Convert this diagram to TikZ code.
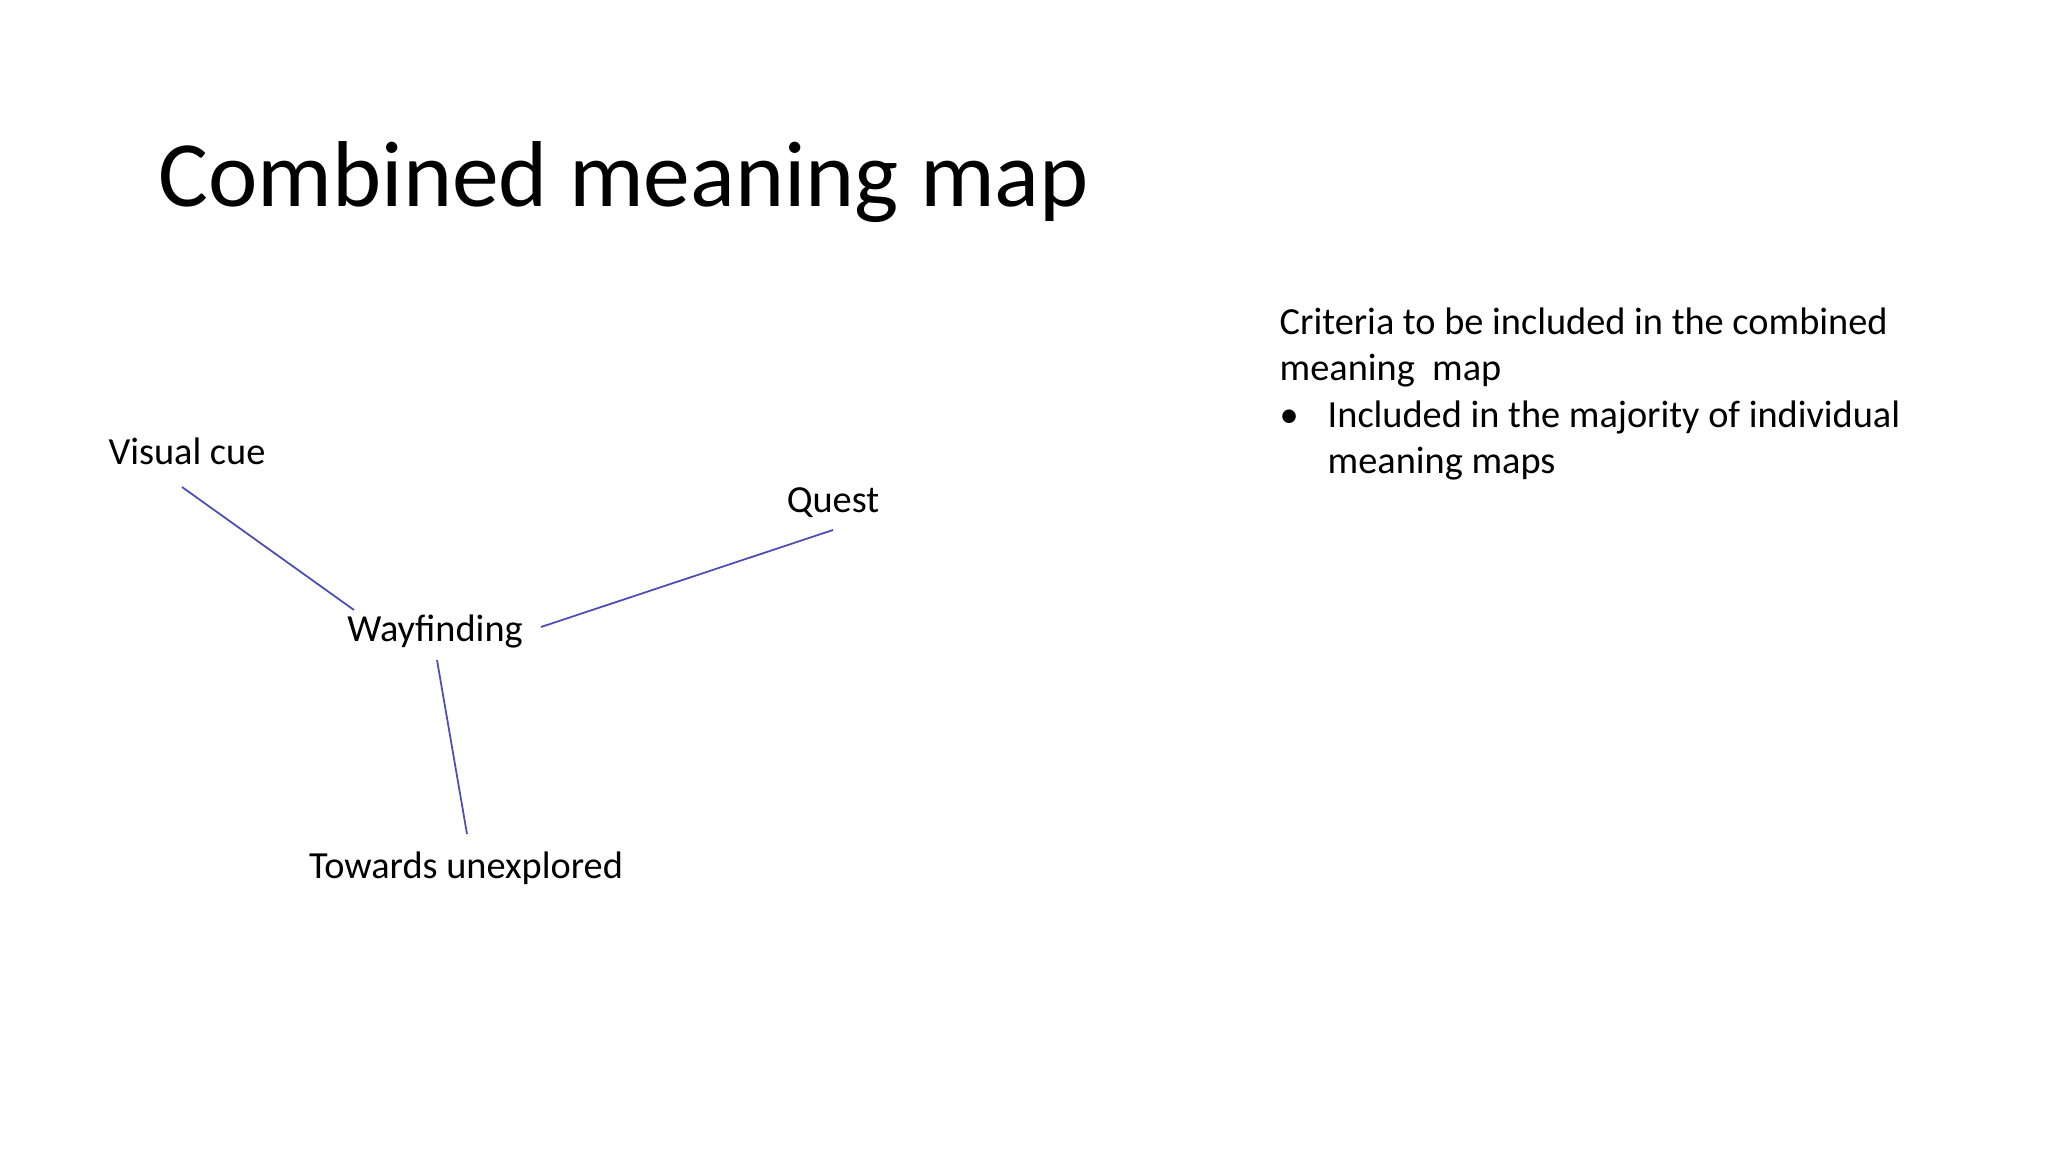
\documentclass[tikz,border=0pt]{standalone}
\usepackage{fontspec}
\setmainfont{Carlito}
\begin{document}
\begin{tikzpicture}[x=0.01cm,y=-0.01cm,
  lbl/.style={font=\fontsize{10.9}{13}\selectfont, inner sep=0pt},
  bl/.style={lbl, anchor=base west},
  link/.style={draw=blue!40!gray, line width=0.5pt}]
\useasboundingbox (0,0) rectangle (2048,1152);
\node[anchor=base west, inner sep=0pt, font=\fontsize{26.6}{30}\selectfont] (title) at (158,207) {Combined meaning map};
\node[lbl] (vc) at (187,451) {Visual cue};
\node[lbl] (q) at (833,503) {Quest};
\node[lbl] (w) at (435,631) {Wayfinding};
\node[lbl] (t) at (466,868) {Towards unexplored};
\coordinate (vcb) at (182,487); \coordinate (wa) at (354,610);
\coordinate (wr) at (541,627); \coordinate (qb) at (833,530);
\coordinate (wb) at (437,660); \coordinate (tt) at (467,834);
\draw[link] (vcb) -- (wa);
\draw[link] (wr) -- (qb);
\draw[link] (wb) -- (tt);
\node[bl] (c1) at (1279,335) {Criteria to be included in the combined};
\node[bl] (c2) at (1279,381) {meaning\ \ map};
\node[bl] (bu) at (1279,428) {•};
\node[bl] (c3) at (1327,428) {Included in the majority of individual};
\node[bl] (c4) at (1327,474) {meaning maps};
\end{tikzpicture}
\end{document}
